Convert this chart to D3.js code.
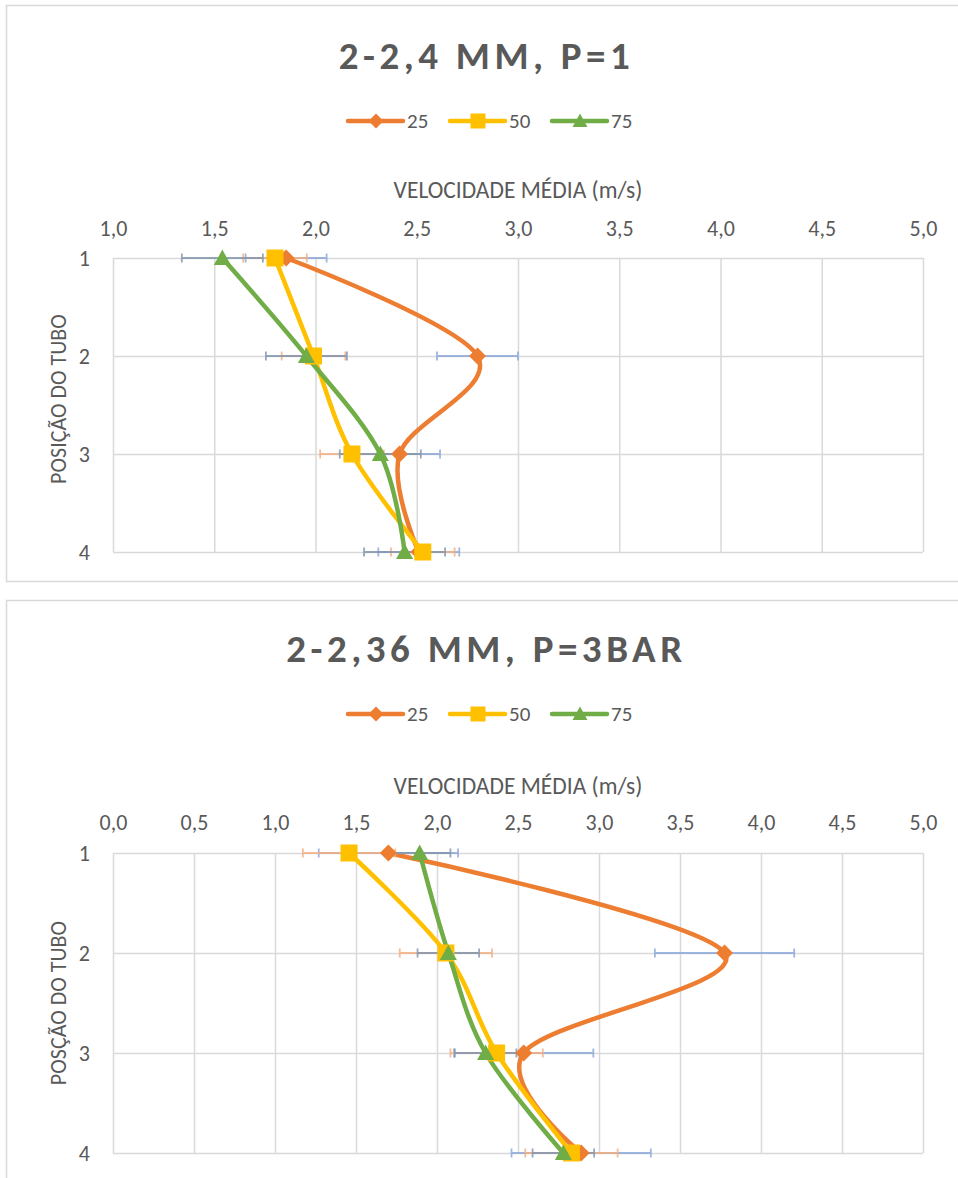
<!DOCTYPE html>
<html>
<head>
<meta charset="utf-8">
<script src="https://cdn.jsdelivr.net/npm/d3@7"></script>
<style>
  html, body { margin: 0; padding: 0; background: #fff; }
  svg { display: block; }
  text { font-family: Carlito, Calibri, Lato, "Open Sans", sans-serif; fill: #595959; }
</style>
</head>
<body>
<svg id="chart" width="958" height="1178"></svg>
<script>
// Tube positions (categories on the vertical axis)
const positions = [1, 2, 3, 4];
const seriesNames = ["25", "50", "75"];

// Chart 1: 2-2,4 mm, P=1 — mean velocity (m/s) per tube position
const p1Title = "2-2,4 MM, P=1";
const p1Vel25 = [1.855, 2.80, 2.415, 2.51];
const p1Vel50 = [1.80, 1.99, 2.18, 2.53];
const p1Vel75 = [1.54, 1.955, 2.32, 2.44];
const p1Err25 = [0.20, 0.20, 0.20, 0.20];
const p1Err50 = [0.157, 0.157, 0.157, 0.157];
const p1Err75 = [0.20, 0.20, 0.20, 0.20];
const p1Ticks = ["1,0", "1,5", "2,0", "2,5", "3,0", "3,5", "4,0", "4,5", "5,0"];

// Chart 2: 2-2,36 mm, P=3 bar
const p3Title = "2-2,36 MM, P=3BAR";
const p3Vel25 = [1.70, 3.775, 2.535, 2.89];
const p3Vel50 = [1.457, 2.055, 2.368, 2.83];
const p3Vel75 = [1.893, 2.07, 2.30, 2.78];
const p3Err25 = [0.43, 0.43, 0.43, 0.43];
const p3Err50 = [0.285, 0.285, 0.285, 0.285];
const p3Err75 = [0.19, 0.19, 0.19, 0.19];
const p3Ticks = ["0,0", "0,5", "1,0", "1,5", "2,0", "2,5", "3,0", "3,5", "4,0", "4,5", "5,0"];

const xTitle = "VELOCIDADE MÉDIA (m/s)";

const lineColors = ["#ED7D31", "#FFC000", "#70AD47"];
const errColors = ["#8FAADC", "#F4B183", "#8497B0"];
const markerTypes = [d3.symbolDiamond, d3.symbolSquare, d3.symbolTriangle];

const svg = d3.select("#chart");

function parseTick(t) { return +t.replace(",", "."); }

function drawMarker(g, type, size, cx, cy, color) {
  if (type === d3.symbolDiamond) {
    const h = size / 2;
    g.append("path")
      .attr("d", `M${cx},${cy - h}L${cx + h},${cy}L${cx},${cy + h}L${cx - h},${cy}Z`)
      .attr("fill", color);
  } else if (type === d3.symbolSquare) {
    g.append("rect")
      .attr("x", cx - size / 2).attr("y", cy - size / 2)
      .attr("width", size).attr("height", size)
      .attr("fill", color);
  } else {
    const h = size * 0.9;
    g.append("path")
      .attr("d", `M${cx},${cy - h * 0.55}L${cx + size / 2},${cy + h * 0.45}L${cx - size / 2},${cy + h * 0.45}Z`)
      .attr("fill", color);
  }
}

function drawChart(opts) {
  const g = svg.append("g");
  const { box, plot, title, ticks, values, errors, yTitle } = opts;

  // outer frame
  g.append("rect")
    .attr("x", box.x).attr("y", box.y)
    .attr("width", box.w).attr("height", box.h)
    .attr("fill", "#fff").attr("stroke", "#D9D9D9").attr("stroke-width", 1.5);

  const tickVals = ticks.map(parseTick);
  const x = d3.scaleLinear()
    .domain([tickVals[0], tickVals[tickVals.length - 1]])
    .range([plot.left, plot.right]);
  const y = d3.scalePoint()
    .domain(positions)
    .range([plot.top, plot.bottom]);

  // title
  g.append("text")
    .attr("x", box.x + box.w / 2 - 0).attr("y", plot.titleY)
    .attr("text-anchor", "middle").attr("dominant-baseline", "central")
    .style("font-size", "39px").style("font-weight", "bold")
    .style("letter-spacing", "4.5px")
    .text(title);

  // legend
  const legendG = g.append("g");
  const legendX = [348, 450, 552];
  seriesNames.forEach((name, i) => {
    const lx = legendX[i];
    const ly = plot.legendY;
    legendG.append("line")
      .attr("x1", lx).attr("x2", lx + 55)
      .attr("y1", ly).attr("y2", ly)
      .attr("stroke", lineColors[i]).attr("stroke-width", 4.5)
      .attr("stroke-linecap", "round");
    drawMarker(legendG, markerTypes[i], 15, lx + 28, ly, lineColors[i]);
    legendG.append("text")
      .attr("x", lx + 59).attr("y", ly)
      .attr("dominant-baseline", "central")
      .style("font-size", "21px")
      .text(name);
  });

  // x axis title
  g.append("text")
    .attr("x", (plot.left + plot.right) / 2).attr("y", plot.xTitleY)
    .attr("text-anchor", "middle").attr("dominant-baseline", "central")
    .style("font-size", "23.5px")
    .text(xTitle);

  // vertical gridlines and top tick labels
  const xAxis = d3.axisTop(x)
    .tickValues(tickVals)
    .tickSize(-(plot.bottom - plot.top))
    .tickPadding(0)
    .tickFormat((d, i) => ticks[i]);
  const xg = g.append("g")
    .attr("transform", `translate(0,${plot.top})`)
    .call(xAxis);
  xg.select(".domain").remove();
  xg.selectAll(".tick line").attr("stroke", "#D9D9D9").attr("stroke-width", 1.5);
  xg.selectAll(".tick text")
    .attr("y", plot.tickY - plot.top)
    .attr("dy", null)
    .attr("dominant-baseline", "central")
    .style("font-size", "22px")
    .style("font-family", null)
    .attr("fill", "#595959");

  // horizontal gridlines and position labels
  const yAxis = d3.axisLeft(y)
    .tickSize(-(plot.right - plot.left))
    .tickPadding(0);
  const yg = g.append("g")
    .attr("transform", `translate(${plot.left},0)`)
    .call(yAxis);
  yg.select(".domain").remove();
  yg.selectAll(".tick line").attr("stroke", "#D9D9D9").attr("stroke-width", 1.5);
  yg.selectAll(".tick text")
    .attr("x", 90 - plot.left)
    .attr("dy", null)
    .attr("dominant-baseline", "central")
    .attr("text-anchor", "end")
    .style("font-size", "22px")
    .style("font-family", null)
    .attr("fill", "#595959");

  // y axis title
  const ty = (plot.top + plot.bottom) / 2 + (opts.yTitleShift || 0);
  g.append("text")
    .attr("transform", `translate(58,${ty}) rotate(-90)`)
    .attr("text-anchor", "middle").attr("dominant-baseline", "central")
    .style("font-size", "22px")
    .text(yTitle);

  // smoothed series lines
  const line = d3.line()
    .x(d => x(d.v))
    .y(d => y(d.p))
    .curve(d3.curveCardinal.tension(0));
  values.forEach((vals, i) => {
    const pts = positions.map((p, j) => ({ p, v: vals[j] }));
    g.append("path")
      .attr("d", line(pts))
      .attr("fill", "none")
      .attr("stroke", lineColors[i])
      .attr("stroke-width", 4.5)
      .attr("stroke-linecap", "round")
      .attr("stroke-linejoin", "round");
  });

  // horizontal error bars
  const cap = 4.5;
  values.forEach((vals, i) => {
    const eg = g.append("g").attr("stroke", errColors[i]).attr("stroke-width", 1.8)
      .attr("opacity", 0.85);
    positions.forEach((p, j) => {
      const lo = x(vals[j] - errors[i][j]);
      const hi = x(vals[j] + errors[i][j]);
      const yy = y(p);
      eg.append("line").attr("x1", lo).attr("x2", hi).attr("y1", yy).attr("y2", yy);
      eg.append("line").attr("x1", lo).attr("x2", lo).attr("y1", yy - cap).attr("y2", yy + cap);
      eg.append("line").attr("x1", hi).attr("x2", hi).attr("y1", yy - cap).attr("y2", yy + cap);
    });
  });

  // markers
  values.forEach((vals, i) => {
    const mg = g.append("g");
    positions.forEach((p, j) => {
      drawMarker(mg, markerTypes[i], 17, x(vals[j]), y(p), lineColors[i]);
    });
  });
}

drawChart({
  box: { x: 6.5, y: 5.5, w: 960, h: 576 },
  plot: { left: 113, right: 923, top: 258, bottom: 552, titleY: 55, legendY: 121, xTitleY: 190, tickY: 228 },
  title: p1Title,
  ticks: p1Ticks,
  values: [p1Vel25, p1Vel50, p1Vel75],
  errors: [p1Err25, p1Err50, p1Err75],
  yTitle: "POSIÇÃO DO TUBO",
  yTitleShift: -6
});

drawChart({
  box: { x: 6.5, y: 600.5, w: 960, h: 600 },
  plot: { left: 113, right: 923, top: 853, bottom: 1153, titleY: 648, legendY: 714, xTitleY: 786, tickY: 822 },
  title: p3Title,
  ticks: p3Ticks,
  values: [p3Vel25, p3Vel50, p3Vel75],
  errors: [p3Err25, p3Err50, p3Err75],
  yTitle: "POSÇÃO DO TUBO",
  yTitleShift: 0
});
</script>
</body>
</html>
